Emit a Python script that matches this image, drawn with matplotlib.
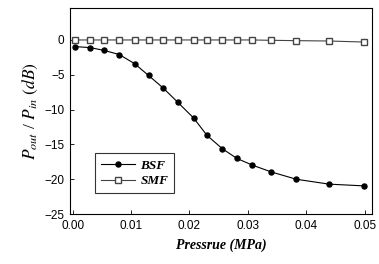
import matplotlib
matplotlib.use("Agg")
import matplotlib.pyplot as plt

# values
pressure = [0.0004, 0.003, 0.0054, 0.008, 0.0106, 0.013, 0.0155, 0.018,
            0.0207, 0.023, 0.0256, 0.0281, 0.0307, 0.034, 0.0383, 0.0439, 0.0499]
bsf = [-0.95, -1.1, -1.5, -2.1, -3.4, -5.1, -6.9, -8.95,
       -11.2, -13.7, -15.6, -17.0, -17.95, -18.95, -20.0, -20.7, -20.95]
smf = [0.0, 0.0, 0.0, 0.0, 0.0, 0.0, 0.0, 0.0,
       0.0, 0.0, 0.0, 0.0, 0.0, -0.05, -0.1, -0.15, -0.3]
xticks = [0.00, 0.01, 0.02, 0.03, 0.04, 0.05]
yticks = [0, -5, -10, -15, -20, -25]

plt.rcParams['font.family'] = ['Liberation Sans', 'DejaVu Sans']
plt.rcParams['mathtext.fontset'] = 'stix'

fig = plt.figure(figsize=(3.79, 2.64), dpi=100)
ax = fig.add_axes([0.185, 0.189, 0.796, 0.781])

ax.plot(pressure, bsf, '-', color='black', lw=0.8, marker='o', ms=3.6,
        mfc='black', mec='black', label='BSF')
ax.plot(pressure, smf, '-', color='#444444', lw=0.8, marker='s', ms=3.8,
        mfc='white', mec='#444444', label='SMF')

ax.set_xlim(-0.00043, 0.0512)
ax.set_ylim(-25, 4.6)
ax.set_xticks(xticks)
ax.set_xticklabels([f"{t:.2f}" for t in xticks])
ax.set_yticks(yticks)
ax.tick_params(direction='in', length=3, width=0.6, labelsize=8.5, pad=4)
for s in ax.spines.values():
    s.set_linewidth(0.8)

serif = ['Liberation Serif', 'DejaVu Serif']
ax.set_xlabel('Pressrue (MPa)', family=serif, style='italic', weight='bold',
              fontsize=10, labelpad=5)
ax.set_ylabel(r'$P_{out}$ / $P_{in}$ $(dB)$', family=serif, fontsize=12.5,
              labelpad=3)

leg = ax.legend(loc='lower left', bbox_to_anchor=(0.06, 0.07),
                prop={'family': serif, 'style': 'italic', 'weight': 'bold', 'size': 9.5},
                frameon=True, fancybox=False, edgecolor='black',
                handlelength=2.6, borderpad=0.45, labelspacing=0.25, handletextpad=0.4)
leg.get_frame().set_linewidth(0.8)

fig.savefig('out.png', dpi=100)
